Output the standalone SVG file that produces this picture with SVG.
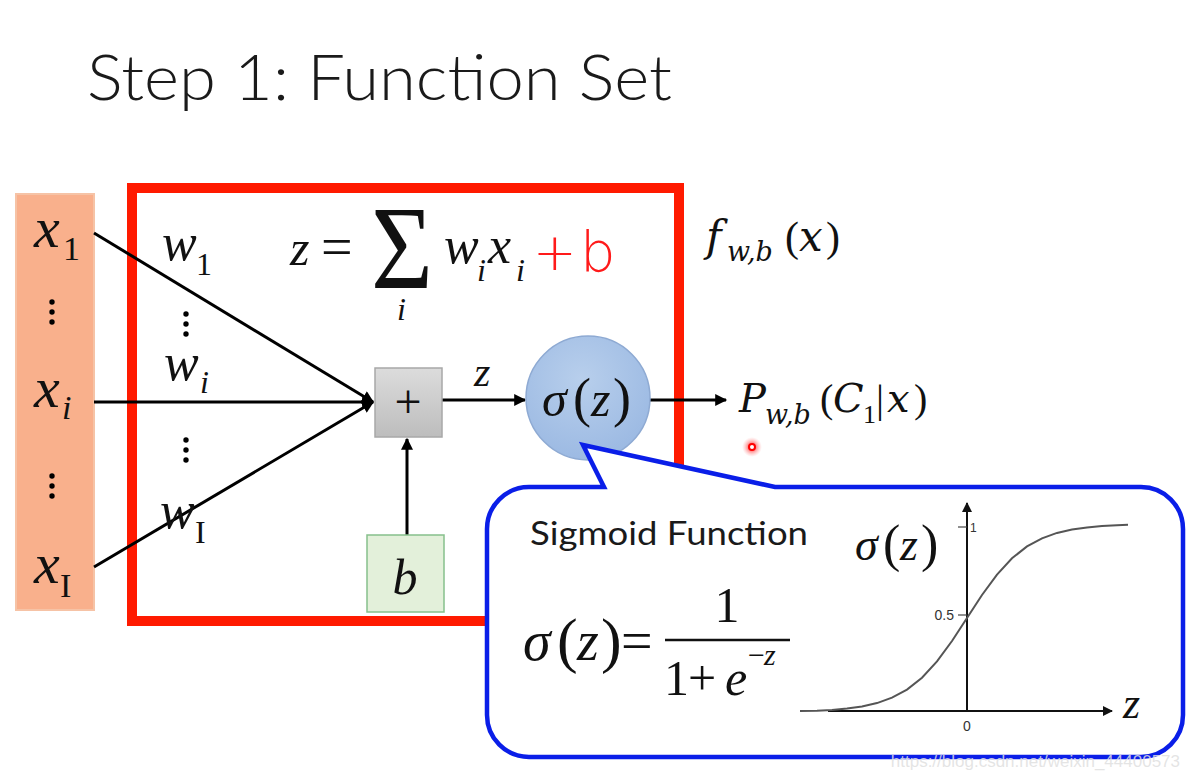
<svg xmlns="http://www.w3.org/2000/svg" width="1190" height="779" viewBox="0 0 1190 779">
<style>
.m{font-family:"Liberation Serif","Times New Roman",serif;font-style:italic;fill:#111}
.u{font-family:"Liberation Serif","Times New Roman",serif;fill:#111}
.c{font-family:"DejaVu Serif","Liberation Serif",serif;font-style:italic;fill:#111}
.s{font-family:"Lato","Open Sans","Liberation Sans",sans-serif;fill:#1a1a1a}
.ln{stroke:#000;stroke-width:3;fill:none}
</style>
<defs>
<marker id="ah" viewBox="0 0 10 10" refX="9" refY="5" markerWidth="4.2" markerHeight="4" orient="auto" markerUnits="strokeWidth"><path d="M0,0 L10,5 L0,10 z" fill="#000"/></marker>
<marker id="ah2" viewBox="0 0 10 10" refX="9" refY="5" markerWidth="6" markerHeight="5" orient="auto" markerUnits="strokeWidth"><path d="M0,0 L10,5 L0,10 z" fill="#111"/></marker>
<linearGradient id="gg" x1="0" y1="0" x2="0" y2="1"><stop offset="0" stop-color="#dcdcdc"/><stop offset="1" stop-color="#bdbdbd"/></linearGradient>
<radialGradient id="bg" cx="0.45" cy="0.35" r="0.7"><stop offset="0" stop-color="#b8cfec"/><stop offset="1" stop-color="#9ab8e2"/></radialGradient>
<radialGradient id="rd" cx="0.5" cy="0.5" r="0.5"><stop offset="0.3" stop-color="#ff5a5a" stop-opacity="0.9"/><stop offset="1" stop-color="#ffb0b0" stop-opacity="0"/></radialGradient>
</defs>
<rect width="1190" height="779" fill="#fff"/>
<text class="s" x="87" y="100" font-size="64" font-weight="300" textLength="585" lengthAdjust="spacingAndGlyphs" fill="#222">Step 1: Function Set</text>

<g id="inputs">
<rect x="16" y="194" width="78" height="416" fill="#f9b08c" stroke="#f6c3a6" stroke-width="2"/>
<text class="m" x="34" y="247" font-size="58">x</text><text class="u" x="63" y="260" font-size="34">1</text>
<text class="m" x="34" y="407" font-size="58">x</text><text class="m" x="62" y="419" font-size="34">i</text>
<text class="m" x="34" y="583" font-size="58">x</text><text class="u" x="60" y="597" font-size="34">I</text>
<g fill="#000"><circle cx="52" cy="302" r="2.7"/><circle cx="52" cy="312" r="2.7"/><circle cx="52" cy="322" r="2.7"/>
<circle cx="52" cy="476" r="2.7"/><circle cx="52" cy="486" r="2.7"/><circle cx="52" cy="496" r="2.7"/></g>
</g>

<g id="function-box">
<rect x="132" y="188" width="547" height="433" fill="none" stroke="#ff1a00" stroke-width="10"/>
</g>

<g id="connectors">
<line class="ln" x1="94" y1="233" x2="373" y2="402" marker-end="url(#ah)"/>
<line class="ln" x1="94" y1="402" x2="373" y2="402" marker-end="url(#ah)"/>
<line class="ln" x1="94" y1="567" x2="373" y2="402" marker-end="url(#ah)"/>
<line class="ln" x1="442" y1="400" x2="525" y2="400" marker-end="url(#ah)"/>
<line class="ln" x1="407" y1="535" x2="407" y2="439" marker-end="url(#ah)"/>
<line class="ln" x1="650" y1="400" x2="726" y2="400" marker-end="url(#ah)"/>
</g>

<g id="weights">
<text class="m" x="162" y="260" font-size="52">w</text><text class="u" x="196" y="275" font-size="32">1</text>
<text class="m" x="164" y="380" font-size="52">w</text><text class="m" x="200" y="393" font-size="32">i</text>
<text class="m" x="160" y="528" font-size="52">w</text><text class="u" x="195" y="543" font-size="32">I</text>
<g fill="#000"><circle cx="186" cy="314" r="2.7"/><circle cx="186" cy="324" r="2.7"/><circle cx="186" cy="334" r="2.7"/>
<circle cx="186" cy="440" r="2.7"/><circle cx="186" cy="450" r="2.7"/><circle cx="186" cy="460" r="2.7"/></g>
</g>

<g id="formula">
<text class="m" x="290" y="265" font-size="50">z</text>
<text class="u" x="321" y="266" font-size="56">=</text>
<text class="u" x="371" y="288" font-size="118" textLength="62" lengthAdjust="spacingAndGlyphs">Σ</text>
<text class="m" x="397" y="320" font-size="32">i</text>
<text class="m" x="444" y="263" font-size="52">w</text><text class="m" x="477" y="281" font-size="32">i</text>
<text class="m" x="488" y="263" font-size="52">x</text><text class="m" x="516" y="281" font-size="32">i</text>
<text x="533" y="270" font-family="DejaVu Sans,Liberation Sans,sans-serif" font-size="52" font-weight="200" fill="#ff1a1a">+</text>
<text x="580" y="271" font-family="DejaVu Sans,Liberation Sans,sans-serif" font-size="56" font-weight="200" fill="#ff1a1a">b</text>
</g>

<g id="sum-node">
<rect x="375" y="368" width="67" height="69" fill="url(#gg)" stroke="#a8a8a8" stroke-width="1.5"/>
<text class="u" x="408" y="418" font-size="48" text-anchor="middle">+</text>
</g>
<text class="m" x="474" y="386" font-size="42">z</text>

<g id="bias">
<rect x="367" y="535" width="77" height="77" fill="#e3f0da" stroke="#86c08c" stroke-width="1.5"/>
<text class="m" x="405" y="594" font-size="50" text-anchor="middle">b</text>
</g>

<g id="sigmoid-node">
<circle cx="588" cy="398" r="62" fill="url(#bg)" stroke="#8eaad3" stroke-width="1.5"/>
<text class="m" x="542" y="416" font-size="50">σ</text>
<text class="u" x="573" y="416" font-size="54">(</text>
<text class="m" x="591" y="416" font-size="50">z</text>
<text class="u" x="613" y="416" font-size="54">)</text>
</g>

<g id="fwb">
<text class="c" x="706" y="251" font-size="42">f</text>
<text class="c" x="727" y="261" font-size="27">w,b</text>
<text class="u" x="785" y="251" font-size="42">(</text>
<text class="c" x="799" y="251" font-size="42">x</text>
<text class="u" x="826" y="251" font-size="42">)</text>
</g>

<g id="output">
<text class="c" x="739" y="412" font-size="40">P</text>
<text class="c" x="765" y="424" font-size="27">w,b</text>
<text class="u" x="820" y="412" font-size="40">(</text>
<text class="c" x="833" y="412" font-size="40">C</text>
<text class="u" x="863" y="423" font-size="26">1</text>
<text class="u" x="876" y="412" font-size="40">|</text>
<text class="c" x="887" y="412" font-size="40">x</text>
<text class="u" x="914" y="412" font-size="40">)</text>
</g>

<g id="pointer-dot">
<circle cx="752" cy="447" r="10" fill="url(#rd)"/>
<circle cx="752" cy="447" r="3" fill="#fff" stroke="#f00" stroke-width="2"/>
</g>

<g id="callout">
<path d="M529,487 L604,487 L583,445 L775,487 L1141,487 A42,42 0 0 1 1183,529 L1183,715 A42,42 0 0 1 1141,757 L529,757 A42,42 0 0 1 487,715 L487,529 A42,42 0 0 1 529,487 Z" fill="#fff" stroke="#0a1ee8" stroke-width="4.5" stroke-linejoin="miter"/>
<text class="s" x="530" y="545" font-size="33" textLength="278" lengthAdjust="spacingAndGlyphs">Sigmoid Function</text>
<text class="m" x="523" y="660" font-size="56">σ</text>
<text class="u" x="557" y="661" font-size="62">(</text>
<text class="m" x="577" y="660" font-size="56">z</text>
<text class="u" x="601" y="661" font-size="62">)</text>
<text class="u" x="621" y="660" font-size="56">=</text>
<line x1="665" y1="640" x2="790" y2="640" stroke="#111" stroke-width="2.5"/>
<text class="u" x="727" y="622" font-size="50" text-anchor="middle">1</text>
<text class="u" x="664" y="695" font-size="50">1</text>
<text class="u" x="688" y="695" font-size="50">+</text>
<text class="m" x="725" y="695" font-size="50">e</text>
<text class="u" x="748" y="665" font-size="30">−</text>
<text class="m" x="764" y="665" font-size="30">z</text>
</g>

<g id="sigmoid-plot">
<line x1="828" y1="711" x2="1112" y2="711" stroke="#111" stroke-width="2" marker-end="url(#ah2)"/>
<line x1="967" y1="711" x2="967" y2="503" stroke="#111" stroke-width="2" marker-end="url(#ah2)"/>
<line x1="958" y1="615" x2="967" y2="615" stroke="#444" stroke-width="1.2"/>
<line x1="958" y1="527" x2="967" y2="527" stroke="#444" stroke-width="1.2"/>
<polyline fill="none" stroke="#555" stroke-width="2" points="800,711 817,710.7 832,709.9 847,708.6 862,706.5 877,703.1 892,697.7 907,689.6 922,677.7 937,661.4 952,641 967,618 982,595 997,574.6 1012,558.3 1027,546.4 1042,538.3 1057,532.9 1072,529.5 1087,527.4 1102,526.1 1117,525.3 1128,524.8"/>
<text x="967" y="731" font-family="Liberation Sans,Arial,sans-serif" font-size="14" fill="#333" text-anchor="middle">0</text>
<text x="954" y="620" font-family="Liberation Sans,Arial,sans-serif" font-size="14" fill="#333" text-anchor="end">0.5</text>
<text x="970" y="532" font-family="Liberation Sans,Arial,sans-serif" font-size="12" fill="#333">1</text>
<text class="m" x="855" y="560" font-size="46">σ</text>
<text class="u" x="883" y="561" font-size="52">(</text>
<text class="m" x="900" y="560" font-size="46">z</text>
<text class="u" x="921" y="561" font-size="52">)</text>
<text class="m" x="1123" y="718" font-size="44">z</text>
</g>

<text x="1180" y="767" font-family="Liberation Sans,Arial,sans-serif" font-size="17" fill="#e0e0e0" fill-opacity="0.85" text-anchor="end">https://blog.csdn.net/weixin_44400573</text>
</svg>
